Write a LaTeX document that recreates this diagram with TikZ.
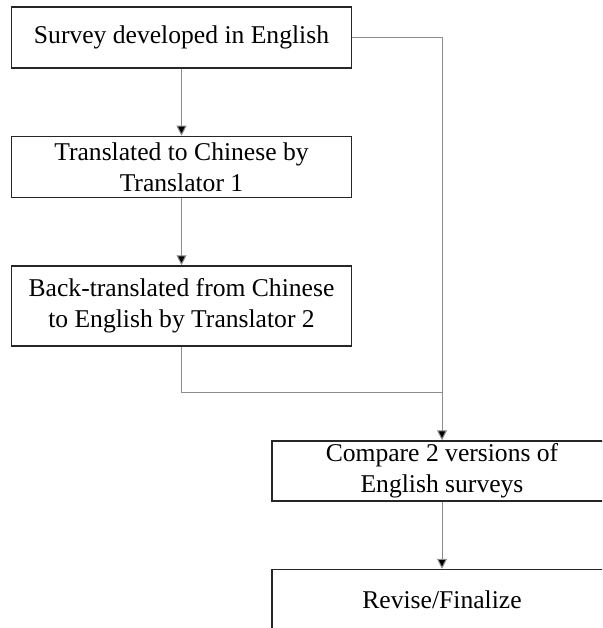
\documentclass[tikz,border=0pt]{standalone}
\usepackage{fontspec}
\setmainfont{Liberation Serif}
\usetikzlibrary{arrows.meta, positioning}

\begin{document}
\begin{tikzpicture}[
        x=1pt, y=1pt,
        node distance=67pt,
        box/.style={rectangle, draw=black!85, line width=1.5pt, fill=white, minimum width=340pt, minimum height=61pt, align=center, inner sep=0pt, font=\fontsize{25.6}{31}\selectfont},
        arrow/.style={draw=black!45, line width=1pt, -{Triangle[width=10pt,length=10pt,fill=black]}},
        link/.style={draw=black!45, line width=1pt}
        ]
        \clip (0,0) rectangle (602,-628);

        \node[box] (survey) at (181.5,-37.5) {Survey developed in English};
        \node[box, below=of survey] (forward) {Translated to Chinese by\\Translator 1};
        \node[box, below=of forward, minimum height=80pt] (back) {Back-translated from Chinese\\to English by Translator 2};

        \node[box, minimum height=60pt] (compare) at (442,-471) {Compare 2 versions of\\English surveys};
        \node[box, below=of compare, minimum height=60pt] (revise) {Revise/Finalize};

        \coordinate (join) at (442,-392);

        \draw[arrow] (survey) -- (forward);
        \draw[arrow] (forward) -- (back);
        \draw[link] (back.south) |- (join);
        \draw[arrow] (survey.east) -| (compare.north);
        \draw[arrow] (compare) -- (revise);
    \end{tikzpicture}
\end{document}
